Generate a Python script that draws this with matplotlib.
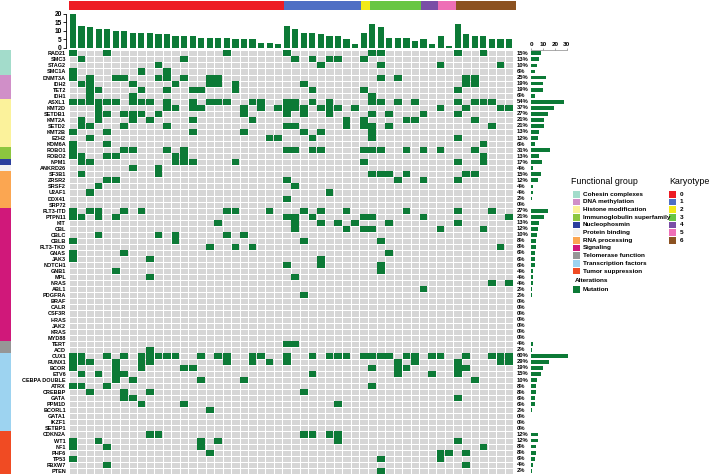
import numpy as np
import matplotlib
matplotlib.use('Agg')
import matplotlib.pyplot as plt
from matplotlib.colors import ListedColormap
from matplotlib.patches import Rectangle
from matplotlib.transforms import blended_transform_factory

plt.rcParams['font.family'] = ['Liberation Sans', 'DejaVu Sans']

### data
genes = ['RAD21', 'SMC3', 'STAG2', 'SMC1A',
         'DNMT3A', 'IDH2', 'TET2', 'IDH1',
         'ASXL1', 'KMT2D', 'SETDB1', 'KMT2A', 'SETD2', 'KMT2B', 'EZH2', 'KDM6A',
         'ROBO1', 'ROBO2', 'NPM1', 'ANKRD26',
         'SF3B1', 'ZRSR2', 'SRSF2', 'U2AF1', 'DDX41', 'SRP72',
         'FLT3-ITD', 'PTPN11', 'KIT', 'CBL', 'CBLC', 'CBLB', 'FLT3-TKD', 'GNAS',
         'JAK3', 'NOTCH1', 'GNB1', 'MPL', 'NRAS', 'ABL1', 'PDGFRA', 'BRAF', 'CALR',
         'CSF3R', 'HRAS', 'JAK2', 'KRAS', 'MYD88',
         'TERT', 'ACD',
         'CUX1', 'RUNX1', 'BCOR', 'ETV6', 'CEBPA DOUBLE', 'ATRX', 'CREBBP', 'GATA',
         'PPM1D', 'BCORL1', 'GATA1', 'IKZF1', 'SETBP1',
         'CDKN2A', 'WT1', 'NF1', 'PHF6', 'TP53', 'FBXW7', 'PTEN']

pct = [15, 13, 10, 6, 25, 19, 19, 6, 54, 37, 27, 21, 21, 13, 12, 6, 31, 13, 17, 4,
       15, 12, 4, 4, 2, 0, 27, 21, 13, 12, 10, 8, 8, 6, 6, 6, 4, 4, 4, 2, 2,
       0, 0, 0, 0, 0, 0, 0, 4, 2, 60, 29, 19, 15, 10, 8, 8, 6, 6, 2, 0, 0, 0,
       12, 12, 8, 8, 6, 4, 2]

# functional group index of each gene
group_of_gene = [0]*4 + [1]*4 + [2]*8 + [3]*2 + [4] + [5] + [6]*6 + [7]*22 + [8]*2 + [9]*13 + [10]*7

group_names = ['Cohesin complexes', 'DNA methylation', 'Histone modification',
               'Immunoglobulin superfamily', 'Nucleophosmin', 'Protein binding',
               'RNA processing', 'Signaling', 'Telomerase function',
               'Transcription factors', 'Tumor suppression']
group_colors = ['#a3dccb', '#d08fc8', '#fbf29b', '#8cc63f', '#2b3f9e', '#f2f2f2',
                '#fba651', '#d0187a', '#969696', '#9dd3f0', '#f04b23']

# karyotype of each sample (52 samples)
karyotype = [0]*25 + [1]*9 + [2]*1 + [3]*6 + [4]*2 + [5]*2 + [6]*7
kary_colors = ['#ed1c24', '#4f6fc4', '#f2ea1a', '#68c644', '#7a4ea6', '#ee6fb6', '#8c5221']

# mutated samples for each gene
mut_cols = [
    [0, 4, 18, 25, 35, 36, 45, 48],
    [1, 13, 26, 28, 30, 31, 34],
    [10, 29, 36, 43, 50],
    [0, 8, 11],
    [0, 2, 5, 6, 10, 11, 13, 16, 17, 36, 38, 46, 47],
    [1, 2, 7, 12, 16, 17, 19, 27, 46, 47],
    [2, 3, 8, 11, 14, 15, 19, 28, 34, 45],
    [2, 7, 35],
    [0, 1, 2, 3, 4, 5, 7, 8, 9, 11, 14, 16, 17, 18, 21, 22, 25, 26, 28, 30, 35, 36, 38, 40, 45, 47, 48, 49],
    [3, 11, 12, 14, 15, 20, 22, 24, 25, 26, 27, 29, 30, 31, 33, 43, 46, 50, 51],
    [3, 4, 6, 7, 8, 10, 20, 25, 27, 30, 35, 37, 41, 45],
    [1, 3, 7, 9, 14, 21, 32, 34, 39, 40, 47],
    [1, 2, 6, 11, 25, 26, 32, 34, 35, 37, 49],
    [0, 4, 14, 20, 27, 29, 35],
    [2, 23, 24, 28, 35, 45],
    [0, 4, 48],
    [0, 6, 7, 11, 13, 25, 26, 28, 29, 34, 35, 36, 39, 41, 43, 47],
    [0, 1, 4, 5, 12, 13, 48],
    [1, 2, 12, 13, 14, 19, 34, 45, 48],
    [7, 10],
    [1, 10, 35, 36, 37, 39, 46, 47],
    [4, 5, 25, 38, 41, 45],
    [3, 26],
    [2, 30],
    [25],
    [],
    [0, 2, 3, 6, 8, 18, 19, 23, 27, 29, 32, 39, 45, 49],
    [0, 1, 3, 5, 25, 26, 28, 34, 35, 41, 51],
    [17, 26, 29, 31, 33, 37, 45],
    [26, 32, 34, 35, 43, 48],
    [3, 10, 12, 18, 20],
    [0, 12, 27, 36],
    [16, 19, 21, 50],
    [0, 6, 37],
    [0, 9, 29],
    [25, 29, 36],
    [5, 36],
    [9, 26],
    [49, 51],
    [41],
    [27],
    [], [], [], [], [], [], [],
    [25, 26],
    [9],
    [0, 1, 4, 6, 8, 9, 10, 11, 12, 15, 17, 18, 21, 22, 25, 28, 30, 31, 32, 34, 35, 36, 37, 39, 40, 42, 43, 46, 49, 50, 51],
    [0, 1, 2, 5, 8, 9, 18, 21, 23, 25, 38, 40, 45, 50, 51],
    [0, 5, 8, 13, 14, 35, 38, 39, 45, 46],
    [1, 3, 5, 6, 28, 38, 42, 45],
    [5, 7, 15, 20, 47],
    [0, 1, 4, 35],
    [2, 6, 9, 27],
    [6, 7, 45],
    [8, 13, 31],
    [16],
    [], [], [],
    [9, 10, 27, 28, 30, 31],
    [0, 3, 15, 17, 31, 45],
    [0, 4, 15, 48],
    [16, 43, 44, 46],
    [0, 36, 43],
    [4, 46],
    [36],
]

n_gene = len(genes)
n_samp = len(karyotype)
M = np.zeros((n_gene, n_samp))
for r, cols in enumerate(mut_cols):
    M[r, cols] = 1
per_sample = M.sum(axis=0)
per_gene = M.sum(axis=1)

green = '#0c7a36'
W, H = 709, 476
fig = plt.figure(figsize=(W/100, H/100), dpi=100)

def px_axes(x0, y0, x1, y1):
    return fig.add_axes([x0/W, 1 - y1/H, (x1 - x0)/W, (y1 - y0)/H])

gx0, gx1, gy0, gy1 = 68.7, 513.3, 50.3, 473.8

### main mutation grid
ax = px_axes(gx0, gy0, gx1, gy1)
ax.pcolormesh(np.arange(n_samp + 1) - 0.5, np.arange(n_gene + 1) - 0.5,
              np.zeros((n_gene, n_samp)), cmap=ListedColormap(['#d6d6d6']),
              edgecolors='white', linewidth=0.5)
for r, cols in enumerate(mut_cols):
    if cols:
        ax.bar(cols, 1.0, bottom=r - 0.5, width=0.9, color=green, linewidth=0)
ax.set_xlim(-0.5, n_samp - 0.5)
ax.set_ylim(n_gene - 0.5, -0.5)
ax.set_xticks([])
ax.set_yticks(range(n_gene))
ax.set_yticklabels(genes, fontsize=4.0, fontweight='bold')
ax.tick_params(axis='y', length=0, pad=2)
for s in ax.spines.values():
    s.set_visible(False)

### samples mutation count (top)
ax_t = px_axes(gx0, 14, gx1, 47.7)
# spine position first: moving it later resets the tick labels
for s in ['top', 'right', 'bottom']:
    ax_t.spines[s].set_visible(False)
ax_t.spines['left'].set_position(('outward', 2))
ax_t.spines['left'].set_linewidth(0.6)
ax_t.bar(range(n_samp), per_sample, width=0.72, color=green, linewidth=0)
ax_t.set_xlim(-0.5, n_samp - 0.5)
ax_t.set_ylim(0, 20)
ax_t.set_yticks([0, 5, 10, 15, 20])
ax_t.set_yticklabels(['0', '5', '10', '15', '20'], fontsize=4.8, fontweight='bold')
ax_t.tick_params(axis='y', length=2, width=0.6, pad=1)
ax_t.set_xticks([])

### karyotype strip
ax_k = px_axes(gx0, 0.5, gx1 + 2.5, 10)
ax_k.pcolormesh(np.linspace(-0.5, n_samp - 0.5, n_samp + 1), [0, 1], np.array([karyotype]),
                cmap=ListedColormap(kary_colors), vmin=-0.5, vmax=6.5)
ax_k.set_xlim(-0.5, n_samp - 0.5)
ax_k.axis('off')

### functional group strip (left)
ax_s = px_axes(0, gy0, 11, gy1)
ax_s.pcolormesh([0, 1], np.arange(n_gene + 1) - 0.5, np.array(group_of_gene)[:, None],
                cmap=ListedColormap(group_colors), vmin=-0.5, vmax=10.5)
ax_s.set_ylim(n_gene - 0.5, -0.5)
ax_s.axis('off')

### gene mutation count (right)
ax_r = px_axes(531, gy0, 531 + 31*1.19, gy1)
ax_r.barh(range(n_gene), per_gene, height=0.62, color=green, linewidth=0)
ax_r.set_xlim(0, 31)
ax_r.set_ylim(n_gene - 0.5, -0.5)
ax_r.set_yticks([])
ax_r.xaxis.tick_top()
ax_r.set_xticks([0, 10, 20, 30])
ax_r.set_xticklabels(['0', '10', '20', '30'], fontsize=4.6, fontweight='bold')
ax_r.tick_params(axis='x', length=1.5, width=0.5, pad=1, color='#888888')
for s in ['bottom', 'right', 'left']:
    ax_r.spines[s].set_visible(False)
ax_r.spines['top'].set_bounds(0, 30)
ax_r.spines['top'].set_linewidth(0.5)
ax_r.spines['top'].set_color('#888888')
trans = blended_transform_factory(ax_r.transAxes, ax_r.transData)
for r, p in enumerate(pct):
    ax_r.text(-0.38, r, f'{p}%', transform=trans, fontsize=4.2, fontweight='bold',
              ha='left', va='center')

### legends
lg = fig.add_axes([0, 0, 1, 1])
lg.set_xlim(0, W)
lg.set_ylim(H, 0)
lg.axis('off')
lg.text(571, 182, 'Functional group', fontsize=6.4, va='center', ha='left')
for i, (name, c) in enumerate(zip(group_names, group_colors)):
    y = 194.3 + i*7.67
    lg.add_patch(Rectangle((573, y - 3.3), 6.7, 6.6, color=c, lw=0))
    lg.text(583, y, name, fontsize=4.6, fontweight='bold', va='center', ha='left')
lg.text(575, 280, 'Alterations', fontsize=4.6, fontweight='bold', va='center', ha='left')
lg.add_patch(Rectangle((573, 289.3 - 3.3), 6.7, 6.6, color=green, lw=0))
lg.text(583, 289.3, 'Mutation', fontsize=4.6, fontweight='bold', va='center', ha='left')
lg.text(669, 182, 'Karyotype', fontsize=6.4, va='center', ha='left')
for i, c in enumerate(kary_colors):
    y = 194.3 + i*7.67
    lg.add_patch(Rectangle((669, y - 3.3), 6.7, 6.6, color=c, lw=0))
    lg.text(680, y, str(i), fontsize=4.6, fontweight='bold', va='center', ha='left')

fig.savefig('out.png', dpi=100)
